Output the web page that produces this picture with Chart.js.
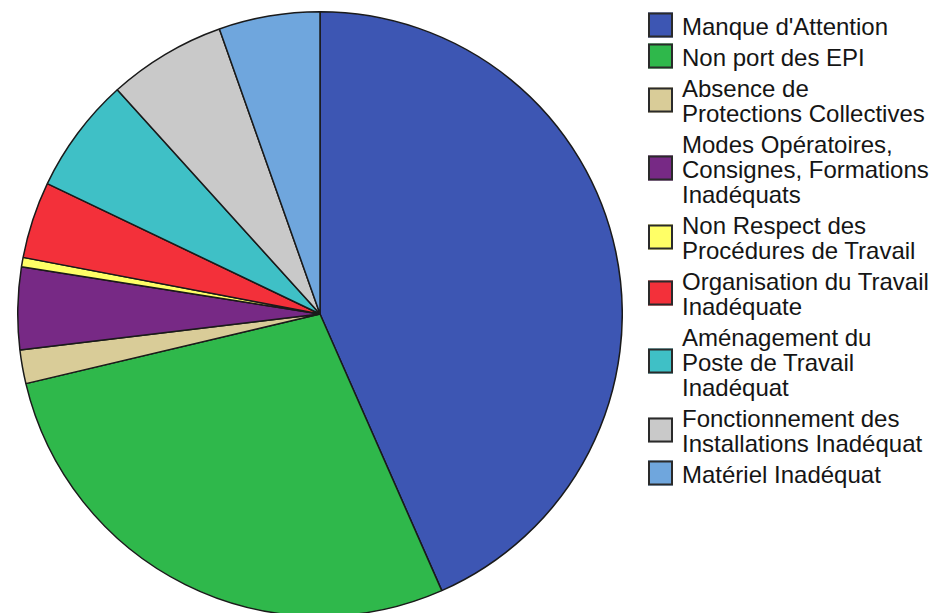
<!DOCTYPE html>
<html>
<head>
<meta charset="utf-8">
<script src="https://cdn.jsdelivr.net/npm/chart.js@4"></script>
<style>
  html, body { margin: 0; padding: 0; background: #fff; overflow: hidden; }
  body { width: 931px; height: 613px; position: relative; }
  #pieBox { position: absolute; left: 17px; top: 11px; width: 606px; height: 606px; }
  #legend { position: absolute; left: 648px; top: 14.2px; font-family: "Liberation Sans", Arial, sans-serif; font-size: 24px; color: #151515; }
  .item { display: flex; align-items: center; margin-bottom: 6px; }
  .box { width: 25px; height: 25px; border: 2px solid #2a2a2a; box-sizing: border-box; margin-right: 9px; flex: none; transform: translateY(-1.5px); }
  .txt { line-height: 25px; white-space: nowrap; }
</style>
</head>
<body>
<div id="pieBox"><canvas id="chart"></canvas></div>
<div id="legend"></div>
<script>
const categories = [
  ["Manque d'Attention"],
  ["Non port des EPI"],
  ["Absence de", "Protections Collectives"],
  ["Modes Opératoires,", "Consignes, Formations", "Inadéquats"],
  ["Non Respect des", "Procédures de Travail"],
  ["Organisation du Travail", "Inadéquate"],
  ["Aménagement du", "Poste de Travail", "Inadéquat"],
  ["Fonctionnement des", "Installations Inadéquat"],
  ["Matériel Inadéquat"]
];
const shares = [43.4, 27.9, 1.8, 4.4, 0.5, 4.1, 6.2, 6.3, 5.4];
const colors = ["#3d56b3", "#2fb84b", "#d9cc98", "#772985", "#ffff66", "#f3303a", "#3fc0c6", "#c9c9c9", "#6fa6dd"];

const legend = document.getElementById("legend");
categories.forEach((lines, i) => {
  const item = document.createElement("div");
  item.className = "item";
  const box = document.createElement("div");
  box.className = "box";
  box.style.background = colors[i];
  const txt = document.createElement("div");
  txt.className = "txt";
  txt.innerHTML = lines.join("<br>");
  item.appendChild(box);
  item.appendChild(txt);
  legend.appendChild(item);
});

const ctx = document.getElementById("chart").getContext("2d");
new Chart(ctx, {
  type: "pie",
  data: {
    labels: categories.map(l => l.join(" ")),
    datasets: [{
      data: shares,
      backgroundColor: colors,
      borderColor: "#1a1a1a",
      borderWidth: 1.5,
      hoverOffset: 0
    }]
  },
  options: {
    responsive: true,
    maintainAspectRatio: false,
    animation: false,
    layout: { padding: 0 },
    plugins: {
      legend: { display: false },
      tooltip: { enabled: false }
    }
  }
});
</script>
</body>
</html>
